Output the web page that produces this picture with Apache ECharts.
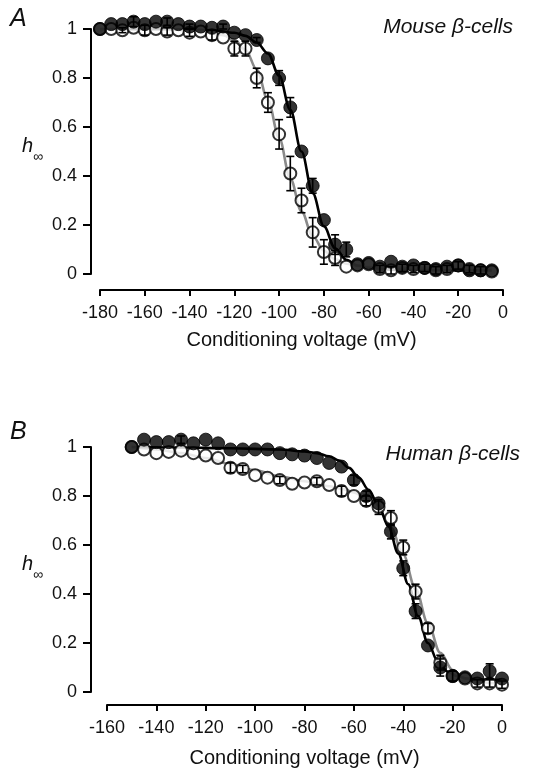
<!DOCTYPE html>
<html><head><meta charset="utf-8">
<script src="https://cdn.jsdelivr.net/npm/echarts@6/dist/echarts.min.js"></script>
<style>html,body{margin:0;padding:0;background:#fff}#c{width:546px;height:771px}</style>
</head><body><div id="c"></div>
<script>
// ---------- Panel A (mouse) ----------
const voltA = [-180,-175,-170,-165,-160,-155,-150,-145,-140,-135,-130,-125,-120,-115,-110,-105,-100,-95,-90,-85,-80,-75,-70,-65,-60,-55,-50,-45,-40,-35,-30,-25,-20,-15,-10,-5];
const filledA = [1.0,1.02,1.02,1.03,1.02,1.03,1.03,1.02,1.01,1.01,1.005,1.01,0.985,0.975,0.955,0.88,0.80,0.68,0.50,0.36,0.22,0.12,0.10,0.04,0.045,0.03,0.05,0.03,0.035,0.025,0.02,0.03,0.035,0.015,0.015,0.015];
const filledAErr = [0,0,0,0.02,0,0,0.015,0,0.01,0,0,0.01,0,0,0.01,0,0.03,0.04,0,0.03,0,0.04,0.03,0,0,0,0,0,0,0,0,0,0,0,0,0];
const openA = [1.0,1.0,0.995,1.005,0.995,1.0,0.99,0.995,0.985,0.99,0.975,0.965,0.92,0.92,0.80,0.70,0.57,0.41,0.30,0.17,0.09,0.065,0.03,0.035,0.04,0.02,0.015,0.025,0.02,0.025,0.015,0.02,0.035,0.02,0.015,0.01];
const openAErr = [0,0,0.01,0,0.02,0,0.015,0,0.015,0,0.02,0,0.03,0.03,0.04,0.04,0.06,0.07,0.05,0.06,0.05,0.03,0,0,0,0.015,0.015,0.015,0.015,0.015,0.015,0.015,0.015,0.015,0.015,0];
const fitFilledAV = [-180,-150,-130,-120,-115,-110,-105,-100,-95,-90,-85,-80,-75,-70,-65,-60,-50,-40,-20,-5];
const fitFilledAH = [1.0,1.0,0.995,0.985,0.972,0.945,0.90,0.81,0.67,0.50,0.33,0.195,0.105,0.058,0.035,0.025,0.018,0.016,0.015,0.015];
const fitOpenAV = [-180,-150,-135,-125,-120,-115,-110,-105,-100,-95,-90,-85,-80,-75,-70,-65,-60,-50,-30,-5];
const fitOpenAH = [1.0,0.998,0.99,0.975,0.955,0.915,0.835,0.71,0.555,0.39,0.255,0.155,0.095,0.06,0.042,0.033,0.028,0.025,0.024,0.024];
const xTicksA = [-180,-160,-140,-120,-100,-80,-60,-40,-20,0];

// ---------- Panel B (human) ----------
const voltB = [-150,-145,-140,-135,-130,-125,-120,-115,-110,-105,-100,-95,-90,-85,-80,-75,-70,-65,-60,-55,-50,-45,-40,-35,-30,-25,-20,-15,-10,-5,0];
const filledB = [1.0,1.03,1.02,1.02,1.03,1.015,1.03,1.015,0.99,0.99,0.99,0.99,0.975,0.97,0.965,0.955,0.935,0.92,0.865,0.80,0.77,0.655,0.505,0.33,0.19,0.10,0.065,0.06,0.055,0.085,0.055];
const filledBErr = [0,0,0,0,0.015,0,0,0,0,0,0,0,0,0,0,0,0,0,0.02,0.02,0,0.03,0.03,0.03,0,0.035,0,0,0,0.03,0];
const openB = [1.0,0.99,0.975,0.98,0.985,0.975,0.965,0.955,0.915,0.91,0.885,0.875,0.865,0.85,0.855,0.86,0.845,0.82,0.80,0.78,0.755,0.71,0.59,0.41,0.26,0.12,0.065,0.055,0.035,0.035,0.03];
const openBErr = [0,0,0,0,0,0,0,0,0.02,0.015,0,0,0.015,0,0,0.015,0,0.02,0,0.02,0.03,0.03,0.03,0.03,0.02,0.03,0.02,0,0.015,0.015,0.015];
const fitFilledBV = [-150,-130,-110,-90,-80,-75,-70,-66,-62,-58,-54,-50,-46,-42,-38,-34,-30,-26,-22,-18,-14,-8,0];
const fitFilledBH = [1.0,0.998,0.995,0.99,0.982,0.975,0.962,0.945,0.915,0.875,0.825,0.76,0.675,0.565,0.44,0.31,0.20,0.125,0.083,0.064,0.055,0.051,0.05];
const fitOpenBV = [-150,-140,-130,-120,-110,-100,-90,-80,-70,-65,-60,-55,-50,-45,-40,-35,-30,-25,-20,-15,-10,-5,0];
const fitOpenBH = [1.0,0.99,0.975,0.955,0.93,0.905,0.88,0.86,0.84,0.83,0.815,0.79,0.745,0.67,0.56,0.42,0.28,0.16,0.09,0.055,0.042,0.037,0.035];
const xTicksB = [-160,-140,-120,-100,-80,-60,-40,-20,0];

const FONT = 'Liberation Sans, Arial, sans-serif';
const zip = (xs, ys) => xs.map((x, i) => [x, ys[i]]);
const zipErr = (xs, ys, es) => xs.map((x, i) => [x, ys[i], es[i]]).filter(d => d[2] > 0);

function errItem(params, api) {
  const x = api.value(0), y = api.value(1), e = api.value(2);
  const hi = api.coord([x, y + e]), lo = api.coord([x, y - e]);
  const w = 4;
  const st = { stroke: '#000', lineWidth: 1.6 };
  return { type: 'group', children: [
    { type: 'line', shape: { x1: hi[0], y1: hi[1], x2: lo[0], y2: lo[1] }, style: st },
    { type: 'line', shape: { x1: hi[0] - w, y1: hi[1], x2: hi[0] + w, y2: hi[1] }, style: st },
    { type: 'line', shape: { x1: lo[0] - w, y1: lo[1], x2: lo[0] + w, y2: lo[1] }, style: st }
  ]};
}

function xAxisCfg(gi, min, ticks, offset, gap) {
  return {
    gridIndex: gi, type: 'value', position: 'bottom', min: min, max: 0, interval: 20, offset: offset,
    name: 'Conditioning voltage (mV)', nameLocation: 'middle', nameGap: gap,
    nameTextStyle: { fontFamily: FONT, fontSize: 20, color: '#111' },
    axisLine: { onZero: false, lineStyle: { color: '#000', width: 2 } },
    axisTick: { length: 6, lineStyle: { color: '#000', width: 2 } },
    axisLabel: { fontFamily: FONT, fontSize: 18, color: '#111', margin: 14, customValues: ticks },
    splitLine: { show: false }
  };
}
function yAxisCfg(gi, offset) {
  return {
    gridIndex: gi, type: 'value', position: 'left', min: 0, max: 1, interval: 0.2, offset: offset,
    axisLine: { onZero: false, lineStyle: { color: '#000', width: 2 } },
    axisTick: { length: 8, lineStyle: { color: '#000', width: 2 } },
    axisLabel: { fontFamily: FONT, fontSize: 18, color: '#111', margin: 14 },
    splitLine: { show: false }
  };
}

function panelSeries(gi, fitOV, fitOH, fitFV, fitFH, volt, open, openErr, filled, filledErr) {
  return [
    { type: 'line', xAxisIndex: gi, yAxisIndex: gi, data: zip(fitOV, fitOH), smooth: 0.35, smoothMonotone: 'x',
      showSymbol: false, clip: false, lineStyle: { color: '#8a8a8a', width: 2.6 }, z: 1, silent: true },
    { type: 'line', xAxisIndex: gi, yAxisIndex: gi, data: zip(fitFV, fitFH), smooth: 0.35, smoothMonotone: 'x',
      showSymbol: false, clip: false, lineStyle: { color: '#000', width: 2.6 }, z: 2, silent: true },
    { type: 'scatter', xAxisIndex: gi, yAxisIndex: gi, data: zip(volt, open), symbol: 'circle', symbolSize: 12,
      clip: false, itemStyle: { color: '#fff', borderColor: '#000', borderWidth: 2 }, z: 3 },
    { type: 'custom', xAxisIndex: gi, yAxisIndex: gi, data: zipErr(volt, open, openErr), renderItem: errItem, clip: false, z: 4 },
    { type: 'scatter', xAxisIndex: gi, yAxisIndex: gi, data: zip(volt, filled), symbol: 'circle', symbolSize: 13,
      clip: false, itemStyle: { color: '#000', borderColor: '#000', borderWidth: 1 }, z: 5 },
    { type: 'custom', xAxisIndex: gi, yAxisIndex: gi, data: zipErr(volt, filled, filledErr), renderItem: errItem, clip: false, z: 6 }
  ];
}

const chart = echarts.init(document.getElementById('c'), null, { renderer: 'canvas' });
chart.setOption({
  animation: false,
  backgroundColor: '#fff',
  grid: [
    { left: 100, right: 43, top: 29, height: 245 },
    { left: 107, right: 44, top: 447, height: 245 }
  ],
  xAxis: [ xAxisCfg(0, -180, xTicksA, 16, 40), xAxisCfg(1, -160, xTicksB, 13, 43) ],
  yAxis: [ yAxisCfg(0, 9), yAxisCfg(1, 16) ],
  series: [].concat(
    panelSeries(0, fitOpenAV, fitOpenAH, fitFilledAV, fitFilledAH, voltA, openA, openAErr, filledA, filledAErr),
    panelSeries(1, fitOpenBV, fitOpenBH, fitFilledBV, fitFilledBH, voltB, openB, openBErr, filledB, filledBErr)
  ),
  graphic: [
    { type: 'text', left: 10, top: 7, style: { text: 'A', fontFamily: FONT, fontSize: 25, fontStyle: 'italic', fill: '#111' } },
    { type: 'text', left: 10, top: 420, style: { text: 'B', fontFamily: FONT, fontSize: 25, fontStyle: 'italic', fill: '#111' } },
    { type: 'text', right: 33, top: 17, style: { text: 'Mouse β-cells', fontFamily: FONT, fontSize: 21, fontStyle: 'italic', fill: '#111' } },
    { type: 'text', right: 26, top: 444, style: { text: 'Human β-cells', fontFamily: FONT, fontSize: 21, fontStyle: 'italic', fill: '#111' } },
    { type: 'text', left: 22, top: 136, style: { text: 'h', fontFamily: FONT, fontSize: 20, fontStyle: 'italic', fill: '#111' } },
    { type: 'text', left: 33, top: 150, style: { text: '∞', fontFamily: FONT, fontSize: 14, fill: '#111' } },
    { type: 'text', left: 22, top: 554, style: { text: 'h', fontFamily: FONT, fontSize: 20, fontStyle: 'italic', fill: '#111' } },
    { type: 'text', left: 33, top: 568, style: { text: '∞', fontFamily: FONT, fontSize: 14, fill: '#111' } }
  ]
});
</script></body></html>
